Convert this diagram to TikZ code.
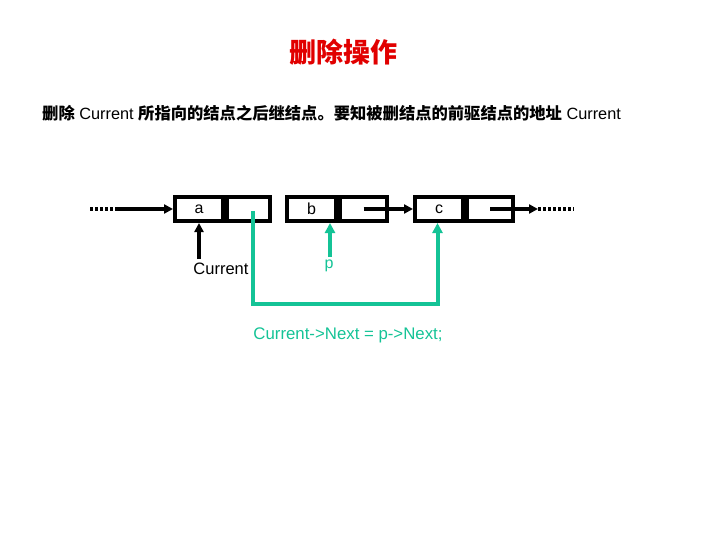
\documentclass[tikz,border=0pt]{standalone}
\usepackage{fontspec}
\setmainfont{Liberation Sans}
\newfontfamily\cjk{Noto Sans CJK SC}
\usetikzlibrary{arrows.meta}
\definecolor{tgreen}{RGB}{20,195,150}
\definecolor{tred}{RGB}{225,0,0}
\tikzset{
  cell/.style={draw=black, line width=4pt, minimum height=24pt, inner sep=0pt, font=\fontsize{16}{16}\selectfont},
  blk/.style={line width=3.5pt, -{Triangle[length=9pt,width=9pt]}},
  grn/.style={draw=tgreen, line width=4pt, -{Triangle[length=10pt,width=10pt]}},
  dots/.style={line width=3.5pt, dash pattern=on 3pt off 2pt},
  lbl/.style={inner sep=0pt, font=\fontsize{16}{16}\selectfont}
}
\begin{document}
\begin{tikzpicture}[x=1pt,y=-1pt]
\useasboundingbox (0,0) rectangle (720,540);
% title
\node[lbl, text=tred, font=\cjk\fontsize{27}{27}\selectfont\bfseries] (title) at (343,52) {删除操作};
\node[lbl, anchor=west, font=\fontsize{16.3}{16}\selectfont] (sub) at (42,113) {{\cjk\bfseries 删除} Current {\cjk\bfseries 所指向的结点之后继结点。要知被删结点的前驱结点的地址} Current};
% nodes
\node[cell, minimum width=48pt] (a) at (199,209) {a};
\node[cell, minimum width=43pt, anchor=west] (ap) at (a.east) {};
\node[cell, minimum width=49pt] (b) at (311.5,209) {b};
\node[cell, minimum width=47pt, anchor=west] (bp) at (b.east) {};
\node[cell, minimum width=48pt] (c) at (439,209) {c};
\node[cell, minimum width=46pt, anchor=west] (cp) at (c.east) {};
% left incoming
\coordinate (l0) at (90,209);
\coordinate (l1) at (118,209);
\draw[dots] (l0) -- (l1);
\draw[blk] (l1) -- (a.west);
% b -> c
\draw[blk] (bp.center) -- (c.west);
% c -> right
\coordinate (r1) at (538,209);
\coordinate (r2) at (574,209);
\draw[blk] (cp.center) -- (r1);
\draw[dots] (r1) -- (r2);
% Current pointer
\node[lbl, font=\fontsize{16.5}{16}\selectfont] (cur) at (221,269) {Current};
\coordinate (cs) at (199,259);
\draw[blk] (cs) -- (cs |- a.south);
% p pointer
\node[lbl, text=tgreen] (p) at (329,266) {p};
\coordinate (ps) at (330,257);
\draw[grn] (ps) -- (ps |- b.south);
% green relink
\coordinate (g0) at (252.5,211);
\coordinate (g1) at (437.5,304);
\draw[grn] (g0) |- (g1) -- (g1 |- c.south);
% code
\node[lbl, text=tgreen, font=\fontsize{16.8}{16}\selectfont] (code) at (348,335) {Current->Next = p->Next;};
\end{tikzpicture}
\end{document}
